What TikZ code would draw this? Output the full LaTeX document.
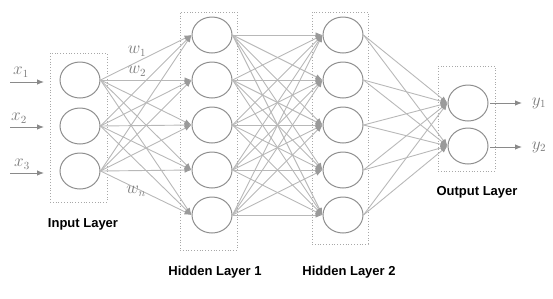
\documentclass[tikz,border=0pt]{standalone}
\usepackage{fontspec}
\setsansfont{Liberation Sans}
\usetikzlibrary{shapes.geometric,arrows.meta}
\definecolor{circgray}{HTML}{8E8E8E}
\definecolor{linegray}{HTML}{B8B8B8}
\definecolor{tipgray}{HTML}{9A9A9A}
\definecolor{boxgray}{HTML}{A8A8A8}
\definecolor{labgray}{HTML}{7A7A7A}
\definecolor{ingray}{HTML}{8A8A8A}
\begin{document}
\begin{tikzpicture}[x=1pt,y=-1pt,
  neuron/.style={ellipse,draw=circgray,line width=1pt,minimum width=40pt,minimum height=36pt,inner sep=0pt},
  layerbox/.style={rectangle,draw=boxgray,dotted,line width=0.8pt,inner sep=0pt},
  conn/.style={draw=linegray,line width=0.9pt,-{Latex[length=7pt,width=5.5pt,fill=tipgray,color=tipgray]}},
  ioarrow/.style={draw=ingray,line width=0.9pt,-{Latex[length=7pt,width=5.5pt]}},
  layerlabel/.style={font=\sffamily\bfseries\fontsize{13}{15}\selectfont,text=black},
  mathlabel/.style={text=labgray,font=\fontsize{16}{18}\selectfont,inner sep=0pt}]
\path[use as bounding box] (0,0) rectangle (553,298);

% layer boxes
\node[layerbox,minimum width=57pt,minimum height=149pt] (inbox) at (78.5,127.5) {};
\node[layerbox,minimum width=57pt,minimum height=238pt] (h1box) at (208.5,131) {};
\node[layerbox,minimum width=56pt,minimum height=232pt] (h2box) at (340,128) {};
\node[layerbox,minimum width=57pt,minimum height=105pt] (outbox) at (466.5,118.5) {};

% neurons
\foreach \i/\y in {1/80,2/126,3/171}
  \node[neuron] (i\i) at (80,\y) {};
\foreach \i/\y in {1/35,2/80,3/125,4/170,5/215} {
  \node[neuron] (a\i) at (212,\y) {};
  \node[neuron] (b\i) at (343,\y) {};
}
\foreach \i/\y in {1/103,2/146}
  \node[neuron] (o\i) at (468,\y) {};

% connections
\foreach \s in {1,2,3}
  \foreach \t in {1,...,5}
    \draw[conn] (i\s.east) -- (a\t.west);
\foreach \s in {1,...,5}
  \foreach \t in {1,...,5}
    \draw[conn] (a\s.east) -- (b\t.west);
\foreach \s in {1,...,5}
  \foreach \t in {1,2}
    \draw[conn] (b\s.east) -- (o\t.west);

% inputs
\foreach \i/\y in {1/82,2/127,3/173} {
  \coordinate (xs\i) at (10,\y);
  \coordinate (xe\i) at (44,\y);
  \draw[ioarrow] (xs\i) -- (xe\i);
}
\node[mathlabel] (x1) at (21,72) {$x_1$};
\node[mathlabel] (x2) at (19,118) {$x_2$};
\node[mathlabel] (x3) at (22,164) {$x_3$};

% outputs
\foreach \i/\y in {1/103,2/147} {
  \coordinate (ys\i) at (490,\y);
  \coordinate (ye\i) at (522,\y);
  \draw[ioarrow] (ys\i) -- (ye\i);
}
\node[mathlabel] (y1) at (539,103) {$y_1$};
\node[mathlabel] (y2) at (539,147) {$y_2$};

% weights
\node[mathlabel] (w1) at (137,51) {$w_1$};
\node[mathlabel] (w2) at (137,71) {$w_2$};
\node[mathlabel] (wn) at (136,191) {$w_n$};

% layer labels
\node[layerlabel] (lin) at (83,224) {Input Layer};
\node[layerlabel] (lh1) at (215,272) {Hidden Layer 1};
\node[layerlabel] (lh2) at (349,272) {Hidden Layer 2};
\node[layerlabel] (lout) at (477,192) {Output Layer};
\end{tikzpicture}
\end{document}
